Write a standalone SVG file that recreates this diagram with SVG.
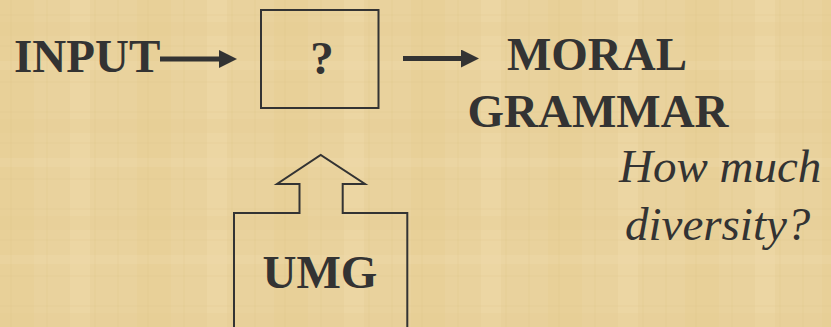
<svg xmlns="http://www.w3.org/2000/svg" width="831" height="327" viewBox="0 0 831 327">
<defs>
  <pattern id="papyrus" patternUnits="userSpaceOnUse" width="137" height="97">
    <rect width="137" height="97" fill="#E9D29D"/>
    <rect x="0" y="0" width="34" height="97" fill="#E4CB8F" opacity="0.35"/>
    <rect x="70" y="0" width="20" height="97" fill="#EFDCAC" opacity="0.4"/>
    <rect x="0" y="22" width="137" height="14" fill="#E5CB8F" opacity="0.25"/>
    <rect x="0" y="61" width="137" height="9" fill="#EFDCAD" opacity="0.3"/>
    <path d="M11 0V97M47 0V97M95 0V97M118 0V97" stroke="#D8BD80" stroke-width="1" opacity="0.25"/>
    <path d="M0 15H137M0 46H137M0 82H137" stroke="#D8BD80" stroke-width="1" opacity="0.2"/>
  </pattern>
  <marker id="ah" markerUnits="userSpaceOnUse" markerWidth="18" markerHeight="18" viewBox="0 0 18 18" refX="1" refY="9" orient="auto">
    <path d="M0 0L18 9L0 18z" fill="#333333"/>
  </marker>
  <style>
    .b{font-family:"Liberation Serif","Times New Roman",serif;font-weight:bold;font-size:47px;fill:#333333}
    .i{font-family:"Liberation Serif","Times New Roman",serif;font-style:italic;font-size:47px;fill:#333333}
    .box{fill:none;stroke:#333333;stroke-width:2}
    .arr{stroke:#333333;stroke-width:5;fill:none}
  </style>
</defs>
<rect width="831" height="327" fill="url(#papyrus)"/>
<g id="input"><text class="b" x="14" y="72">INPUT</text></g>
<g id="box">
  <rect class="box" x="261" y="10" width="117.5" height="98"/>
  <text class="b" x="322" y="74" text-anchor="middle">?</text>
</g>
<g id="moral-grammar">
  <text class="b" x="597" y="70" text-anchor="middle">MORAL</text>
  <text class="b" x="598" y="127" text-anchor="middle">GRAMMAR</text>
</g>
<g id="diversity">
  <text class="i" x="619" y="182">How much</text>
  <text class="i" x="625" y="240">diversity?</text>
</g>
<g id="umg">
  <path class="box" d="M234 327V213H299.5V184H277L320.7 155L365 184H342.7V213H407.3V327"/>
  <text class="b" x="320" y="288" text-anchor="middle">UMG</text>
</g>
<g id="connectors">
  <line class="arr" x1="160" y1="59" x2="220" y2="59" marker-end="url(#ah)"/>
  <line class="arr" x1="403" y1="58.5" x2="462" y2="58.5" marker-end="url(#ah)"/>
</g>
</svg>
